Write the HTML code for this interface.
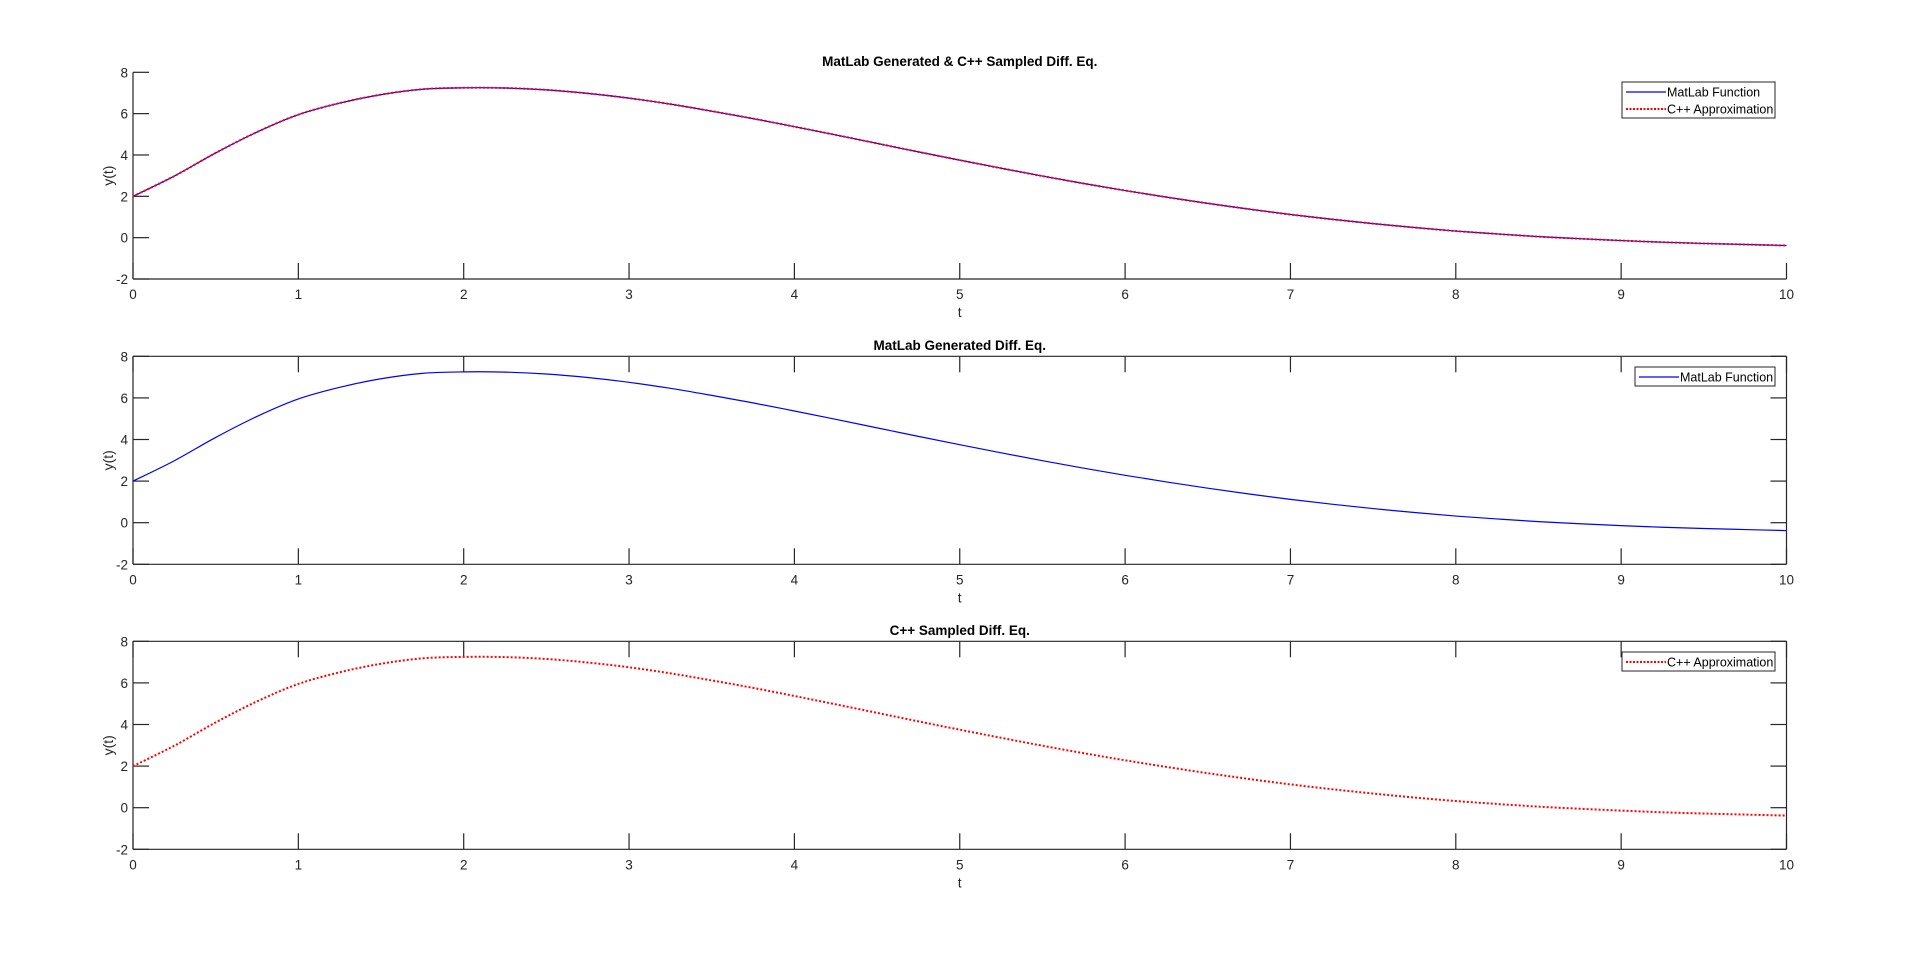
<!DOCTYPE html>
<html><head><meta charset="utf-8"><style>
html,body{margin:0;padding:0;background:#fff;}
svg{display:block;font-family:"Liberation Sans",Arial,sans-serif;}
</style></head><body>
<svg id="fig" width="1920" height="955" viewBox="0 0 1920 955" xmlns="http://www.w3.org/2000/svg"></svg>
<script>
const tValues = [0,0.25,0.5,0.75,1,1.25,1.5,1.75,2,2.25,2.5,2.75,3,3.25,3.5,3.75,4,4.25,4.5,4.75,5,5.25,5.5,5.75,6,6.25,6.5,6.75,7,7.25,7.5,7.75,8,8.25,8.5,8.75,9,9.25,9.5,9.75,10];
const matlabValues = [2.0,2.98,4.1,5.11,5.95,6.51,6.92,7.18,7.25,7.24,7.15,6.98,6.75,6.46,6.12,5.76,5.37,4.97,4.56,4.15,3.75,3.36,2.98,2.62,2.28,1.96,1.66,1.38,1.12,0.89,0.68,0.49,0.32,0.18,0.05,-0.05,-0.14,-0.22,-0.28,-0.33,-0.38];
const cppValues = [2.0,2.98,4.1,5.11,5.95,6.51,6.92,7.18,7.25,7.24,7.15,6.98,6.75,6.46,6.12,5.76,5.37,4.97,4.56,4.15,3.75,3.36,2.98,2.62,2.28,1.96,1.66,1.38,1.12,0.89,0.68,0.49,0.32,0.18,0.05,-0.05,-0.14,-0.22,-0.28,-0.33,-0.38];
const xTicks = [0,1,2,3,4,5,6,7,8,9,10];
const yTicks = [-2,0,2,4,6,8];

const NS = "http://www.w3.org/2000/svg";
const svg = document.getElementById('fig');
function mk(tag, attrs, parent){
  const e = document.createElementNS(NS, tag);
  for (const k in attrs) e.setAttribute(k, attrs[k]);
  (parent||svg).appendChild(e);
  return e;
}
function smoothPath(pts){
  let d = "M" + pts[0][0].toFixed(2) + "," + pts[0][1].toFixed(2);
  for (let i=0;i<pts.length-1;i++){
    const p0 = pts[Math.max(0,i-1)], p1 = pts[i], p2 = pts[i+1], p3 = pts[Math.min(pts.length-1,i+2)];
    const c1x = p1[0]+(p2[0]-p0[0])/6, c1y = p1[1]+(p2[1]-p0[1])/6;
    const c2x = p2[0]-(p3[0]-p1[0])/6, c2y = p2[1]-(p3[1]-p1[1])/6;
    d += " C"+c1x.toFixed(2)+","+c1y.toFixed(2)+" "+c2x.toFixed(2)+","+c2y.toFixed(2)+" "+p2[0].toFixed(2)+","+p2[1].toFixed(2);
  }
  return d;
}

const L = 133, R = 1786.5;
const panels = [
  {top:72.3, bottom:279, title:"MatLab Generated & C++ Sampled Diff. Eq.", titleY:66, box:false, series:["m","c"], leg:{x1:1622,y1:82,x2:1775,y2:118}, name:"panel-combined"},
  {top:356.3, bottom:564.3, title:"MatLab Generated Diff. Eq.", titleY:350, box:true, series:["m"], leg:{x1:1635,y1:367,x2:1775,y2:386}, name:"panel-matlab"},
  {top:641.3, bottom:849.3, title:"C++ Sampled Diff. Eq.", titleY:635, box:true, series:["c"], leg:{x1:1622,y1:652,x2:1775,y2:671}, name:"panel-cpp"}
];

panels.forEach(p=>{
  const g = mk('g', {});
  
  
  const xs = v => L + (v-0)/(10-0)*(R-L);
  const ys = v => p.bottom - (v-(-2))/(8-(-2))*(p.bottom-p.top);
  const ax = {stroke:"#262626","stroke-width":1.2,fill:"none"};
  const yl = mk('line', Object.assign({x1:L,y1:p.top,x2:L,y2:p.bottom},ax), g);
  
  
  const xl = mk('line', Object.assign({x1:L,y1:p.bottom,x2:R,y2:p.bottom},ax), g);
  
  
  if (p.box){
    mk('line', Object.assign({x1:L,y1:p.top,x2:R,y2:p.top},ax), g);
    mk('line', Object.assign({x1:R,y1:p.top,x2:R,y2:p.bottom},ax), g);
  }
  xTicks.forEach(v=>{
    const x = xs(v);
    mk('line', Object.assign({x1:x,y1:p.bottom,x2:x,y2:p.bottom-16},ax), g);
    if (p.box) mk('line', Object.assign({x1:x,y1:p.top,x2:x,y2:p.top+16},ax), g);
    const t = mk('text', {x:x, y:p.bottom+20, "text-anchor":"middle", "font-size":13.5, fill:"#262626"}, g);
    t.textContent = v;
    
    
  });
  yTicks.forEach(v=>{
    const y = ys(v);
    mk('line', Object.assign({x1:L,y1:y,x2:L+16,y2:y},ax), g);
    if (p.box) mk('line', Object.assign({x1:R,y1:y,x2:R-16,y2:y},ax), g);
    const t = mk('text', {x:L-5, y:y+5, "text-anchor":"end", "font-size":13.5, fill:"#262626"}, g);
    t.textContent = v;
    
    
  });
  const tt = mk('text', {x:(L+R)/2, y:p.titleY, "text-anchor":"middle", "font-size":13.5, "font-weight":"bold", fill:"#000"}, g);
  tt.textContent = p.title;
  
  
  const xt = mk('text', {x:(L+R)/2, y:p.bottom+38, "text-anchor":"middle", "font-size":14, fill:"#262626"}, g);
  xt.textContent = "t";
  
  
  const cy = (p.top+p.bottom)/2;
  const yt = mk('text', {x:0, y:0, transform:"translate(113,"+cy+") rotate(-90)", "text-anchor":"middle", "font-size":14, fill:"#262626"}, g);
  yt.textContent = "y(t)";
  
  
  if (p.series.includes("m")){
    const pts = tValues.map((t,i)=>[xs(t), ys(matlabValues[i])]);
    const path = mk('path', {d:smoothPath(pts), stroke:"#0000ff","stroke-width":1.2, fill:"none"}, g);
    
    
  }
  if (p.series.includes("c")){
    const pts = tValues.map((t,i)=>[xs(t), ys(cppValues[i])]);
    const path = mk('path', {d:smoothPath(pts), stroke:"#ff0000","stroke-width":2, "stroke-dasharray":"2,2", fill:"none"}, g);
    
    
  }
  const lg = mk('g', {}, g);
  
  
  mk('rect', {x:p.leg.x1, y:p.leg.y1, width:p.leg.x2-p.leg.x1, height:p.leg.y2-p.leg.y1, fill:"#fff", stroke:"#262626","stroke-width":1}, lg);
  let rowY = p.leg.y1 + 10;
  p.series.forEach(s=>{
    const lx1 = p.leg.x1+4, lx2 = p.leg.x1+44;
    const e = mk('g', {}, lg);
    
    
    if (s==="m") mk('line', {x1:lx1, y1:rowY, x2:lx2, y2:rowY, stroke:"#0000ff","stroke-width":1.2}, e);
    else mk('line', {x1:lx1, y1:rowY, x2:lx2, y2:rowY, stroke:"#ff0000","stroke-width":2,"stroke-dasharray":"2,1.5"}, e);
    const t = mk('text', {x:lx2+1, y:rowY+4.5, "font-size":12.5, fill:"#000"}, e);
    t.textContent = s==="m" ? "MatLab Function" : "C++ Approximation";
    rowY += 17;
  });
});
</script>
</body></html>
